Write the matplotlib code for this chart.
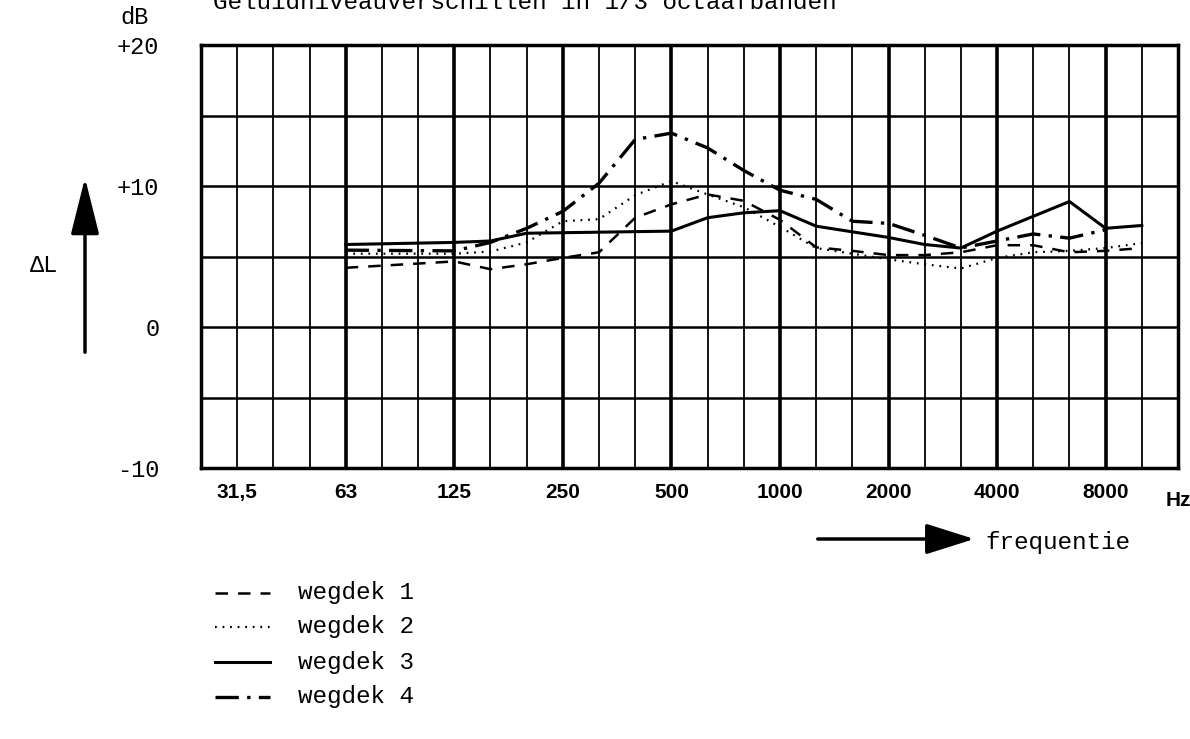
import matplotlib
matplotlib.use('Agg')
import matplotlib.pyplot as plt
from matplotlib.lines import Line2D

# 1/3-octave band centres (one grid column each)
bands = ['25', '31,5', '40', '50', '63', '80', '100', '125', '160', '200',
         '250', '315', '400', '500', '630', '800', '1000', '1250', '1600',
         '2000', '2500', '3150', '4000', '5000', '6300', '8000', '10000',
         '12500']
octave_labels = ['31,5', '63', '125', '250', '500', '1000', '2000', '4000', '8000']

# wegdek 1 (gestreept)
w1_bands = ['63', '125', '160', '200', '250', '315', '400', '500', '630', '800',
            '1000', '1250', '1600', '2000', '2500', '3150', '4000', '5000',
            '6300', '8000', '10000']
w1_values = [4.2, 4.65, 4.1, 4.45, 4.9, 5.3, 7.75, 8.7, 9.4, 8.95,
             7.6, 5.65, 5.4, 5.1, 5.1, 5.3, 5.8, 5.8, 5.3, 5.4, 5.6]

# wegdek 2 (gestippeld)
w2_bands = ['63', '125', '160', '200', '250', '315', '400', '500', '630', '800',
            '1000', '1250', '1600', '2000', '2500', '3150', '4000', '5000',
            '6300', '8000', '10000']
w2_values = [5.2, 5.2, 5.35, 6.0, 7.5, 7.65, 9.35, 10.35, 9.4, 8.5,
             7.1, 5.6, 5.2, 4.8, 4.45, 4.15, 4.9, 5.3, 5.4, 5.6, 5.95]

# wegdek 3 (doorgetrokken)
w3_bands = ['63', '125', '160', '200', '500', '630', '800', '1000', '1250',
            '1600', '2000', '2500', '3150', '4000', '5000', '6300', '8000',
            '10000']
w3_values = [5.85, 6.0, 6.1, 6.65, 6.8, 7.75, 8.1, 8.25, 7.15,
             6.75, 6.35, 5.85, 5.6, 6.8, 7.85, 8.9, 7.0, 7.2]

# wegdek 4 (streep-punt)
w4_bands = ['63', '125', '160', '200', '250', '315', '400', '500', '630', '800',
            '1000', '1250', '1600', '2000', '2500', '3150', '4000', '5000',
            '6300', '8000']
w4_values = [5.45, 5.4, 6.0, 7.0, 8.2, 10.2, 13.3, 13.75, 12.7, 11.1,
             9.7, 9.05, 7.5, 7.35, 6.5, 5.6, 6.1, 6.6, 6.3, 6.9]

series = [
    ('wegdek 1', w1_bands, w1_values, dict(lw=1.8, dashes=(5, 4))),
    ('wegdek 2', w2_bands, w2_values, dict(lw=1.6, dashes=(0.8, 2.6))),
    ('wegdek 3', w3_bands, w3_values, dict(lw=2.2, linestyle='-')),
    ('wegdek 4', w4_bands, w4_values, dict(lw=2.4, dashes=(7, 2.5, 1, 2.5))),
]

W, H = 1190, 739
mono = ['Liberation Mono', 'DejaVu Sans Mono']
sans = ['Liberation Sans Narrow', 'Liberation Sans']

fig = plt.figure(figsize=(W / 100, H / 100), dpi=100)
ax = fig.add_axes([201 / W, 1 - 468 / H, (1178 - 201) / W, (468 - 45) / H])

ax.set_xlim(0, len(bands) - 1)
ax.set_ylim(-10, 20)

# grid: thin lines per 1/3 octave, thick ones at the octave bands
for i, b in enumerate(bands[1:-1], start=1):
    thick = b in octave_labels[1:]
    ax.axvline(i, color='black', lw=2.6 if thick else 1.3, zorder=1)
for y in [-5, 0, 5, 10, 15]:
    ax.axhline(y, color='black', lw=1.8, zorder=1)
for sp in ax.spines.values():
    sp.set_linewidth(2.5)

for name, bnd, vals, style in series:
    xs = [bands.index(b) for b in bnd]
    ax.plot(xs, vals, color='black', zorder=3, **style)

ax.set_xticks([bands.index(b) for b in octave_labels])
ax.set_xticklabels(octave_labels, family=sans, fontweight='bold', fontsize=15)
ax.set_yticks([-10, 0, 10, 20])
ax.set_yticklabels(['-10', '0', '+10', '+20'], family=mono, fontsize=17)
ax.tick_params(axis='both', length=0)
ax.tick_params(axis='x', pad=11)
ax.tick_params(axis='y', pad=30)
ax.text(len(bands) - 1, -11.6, 'Hz', family=sans, fontweight='bold',
        fontsize=15, ha='center', va='top')

# titel (bovenaan afgesneden)
fig.text(213 / W, 1 - 9 / H, 'Geluidniveauverschillen in 1/3 octaafbanden',
         family=mono, fontsize=17.5, ha='left', va='baseline')
fig.text(120 / W, 1 - 18 / H, 'dB', family=mono, fontsize=17, ha='left', va='center')
fig.text(30 / W, 1 - 265 / H, '\u0394L', family=mono, fontsize=17, ha='left', va='center')

# pijl omhoog bij ΔL
fig.add_artist(matplotlib.patches.FancyArrowPatch(
    (85 / W, 1 - 355 / H), (85 / W, 1 - 175 / H), transform=fig.transFigure,
    arrowstyle='-|>,head_length=1.4,head_width=0.35', mutation_scale=25,
    lw=2.5, color='black'))
# pijl frequentie
fig.add_artist(matplotlib.patches.FancyArrowPatch(
    (815 / W, 1 - 539 / H), (977 / W, 1 - 539 / H), transform=fig.transFigure,
    arrowstyle='-|>,head_length=1.2,head_width=0.38', mutation_scale=25,
    lw=2.5, color='black'))
fig.text(985 / W, 1 - 543 / H, 'frequentie', family=mono, fontsize=17.5,
         ha='left', va='center')

# legenda
rows = [593, 627, 662, 697]
for (name, bnd, vals, style), yp in zip(series, rows):
    y = 1 - yp / H
    fig.add_artist(Line2D([215 / W, 270 / W], [y, y], transform=fig.transFigure,
                          color='black', **style))
    fig.text(298 / W, y, name, family=mono, fontsize=17.5, ha='left', va='center')

fig.savefig('out.png', dpi=100)
